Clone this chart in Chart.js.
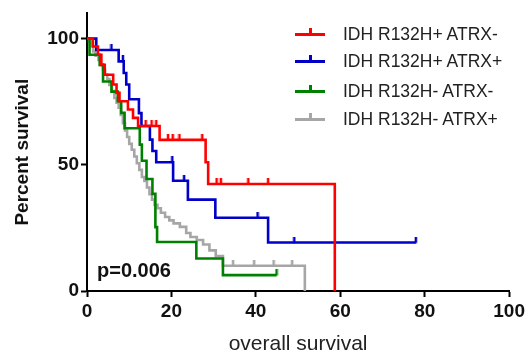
<!DOCTYPE html>
<html><head><meta charset="utf-8">
<script src="https://cdn.jsdelivr.net/npm/chart.js@4/dist/chart.umd.min.js"></script>
<style>
html,body{margin:0;padding:0;background:#fff;}
#wrap{position:relative;width:528px;height:355px;overflow:hidden;}
#c{position:absolute;left:0;top:0;}
.leg{position:absolute;left:295px;height:20px;width:230px;}
.leg .ln{position:absolute;left:0;top:9px;width:30px;height:3px;}
.leg .tk{position:absolute;left:14px;top:4px;width:2.5px;height:6px;}
.leg .tx{position:absolute;left:48px;top:0;font:17.5px "Liberation Sans",Arial,sans-serif;color:#222;line-height:20px;white-space:nowrap;}
#pval{position:absolute;left:97px;top:259px;font:bold 20px "Liberation Sans",Arial,sans-serif;color:#111;line-height:22px;}
</style></head>
<body><div id="wrap"><canvas id="c" width="528" height="355"></canvas>
<div class="leg" style="top:24px"><div class="ln" style="background:#ff0000"></div><div class="tk" style="background:#ff0000"></div><div class="tx">IDH R132H+ ATRX-</div></div>
<div class="leg" style="top:51px"><div class="ln" style="background:#0000c8"></div><div class="tk" style="background:#0000c8"></div><div class="tx">IDH R132H+ ATRX+</div></div>
<div class="leg" style="top:81px"><div class="ln" style="background:#008000"></div><div class="tk" style="background:#008000"></div><div class="tx">IDH R132H- ATRX-</div></div>
<div class="leg" style="top:109px"><div class="ln" style="background:#a6a6a6"></div><div class="tk" style="background:#a6a6a6"></div><div class="tx">IDH R132H- ATRX+</div></div>
<div id="pval">p=0.006</div>
</div>
<script>
// Kaplan-Meier step data: event times and survival (%) after each event
const groupNames = ['IDH R132H+ ATRX-', 'IDH R132H+ ATRX+', 'IDH R132H- ATRX-', 'IDH R132H- ATRX+'];

const redTimes = [0, 1.4, 2.6, 3.4, 4.2, 6.2, 7.0, 7.7, 9.7, 10.9, 12.1, 17.2, 28.1, 28.7, 58.7];
const redSurv  = [100, 96.9, 93.6, 89.6, 85.7, 81.8, 78.5, 75.2, 71.9, 68.6, 65.4, 59.9, 51.0, 42.4, 0];
const redCensor = [13.9, 15.3, 16.4, 19.2, 20.3, 21.9, 27.3, 30.7, 31.7, 38.2, 42.9];

const blueTimes = [0, 2.2, 7.5, 8.7, 9.3, 10.0, 12.3, 12.9, 14.9, 15.5, 16.4, 20.4, 23.9, 30.4, 42.9, 77.9];
const blueSurv  = [100, 95.5, 91.0, 86.4, 81.8, 76.0, 70.5, 65.4, 60.0, 55.5, 51.0, 43.7, 36.2, 29.0, 19.2, 19.2];
const blueCensor = [5.8, 8.5, 20.2, 23.0, 40.4, 49.1, 77.9];

const greenTimes = [0, 0.6, 3.0, 3.8, 5.8, 7.3, 8.1, 8.9, 12.5, 13.0, 14.1, 15.5, 16.2, 16.6, 25.9, 32.2, 44.9];
const greenSurv  = [100, 93.6, 89.6, 83.0, 79.0, 75.2, 70.6, 64.5, 58.0, 51.6, 44.4, 38.5, 25.3, 19.4, 12.9, 6.3, 6.3];
const greenCensor = [44.9];

const grayTimes = [0, 0.5, 1.0, 1.5, 2.0, 2.7, 3.2, 3.8, 4.3, 4.8, 5.3, 5.9, 6.5, 7.0, 7.5, 8.0, 8.5, 9.0, 9.5, 10.0, 10.6, 11.2, 11.8, 12.4, 13.0, 13.6, 14.2, 14.8, 15.4, 16.0, 16.7, 17.5, 18.5, 19.5, 20.5, 22.0, 23.5, 24.5, 26.0, 27.5, 29.0, 30.5, 32.2, 51.6];
const graySurv  = [100, 98.8, 97.0, 94.9, 93.2, 91.6, 89.6, 87.7, 85.8, 84.0, 81.6, 79.2, 76.5, 74.6, 72.6, 69.8, 66.5, 63.6, 61.0, 58.3, 56.0, 53.3, 50.6, 48.0, 45.2, 43.6, 41.0, 38.4, 36.2, 34.2, 32.8, 31.0, 29.3, 28.0, 26.8, 25.4, 23.0, 21.4, 20.2, 18.4, 16.1, 13.8, 10.0, 0];
const grayCensor = [34.6, 39.6, 44.2, 48.6];

const xTicks = [0, 20, 40, 60, 80, 100];
const yTicks = [0, 50, 100];

const colors = ['#ff0000', '#0000c8', '#008000', '#a6a6a6'];
const FONT = '"Liberation Sans", Arial, sans-serif';

function pts(ts, ss) { return ts.map((t, i) => ({x: t, y: ss[i]})); }
function survAt(ts, ss, t) { let v = ss[0]; for (let i = 0; i < ts.length; i++) { if (ts[i] <= t) v = ss[i]; } return v; }
function tickImg(col) {
  const c = document.createElement('canvas'); c.width = 4; c.height = 12;
  const g = c.getContext('2d'); g.fillStyle = col; g.fillRect(0.75, 0, 2.5, 6.5); return c;
}

const groups = [
  [redTimes, redSurv, redCensor],
  [blueTimes, blueSurv, blueCensor],
  [greenTimes, greenSurv, greenCensor],
  [grayTimes, graySurv, grayCensor]
];
const datasets = [];
groups.forEach((g, i) => {
  datasets.push({
    type: 'scatter', label: groupNames[i] + ' censored', showLine: false,
    data: g[2].map(t => ({x: t, y: survAt(g[0], g[1], t)})),
    pointStyle: tickImg(colors[i]), pointRadius: 5, clip: false, order: i * 2
  });
  datasets.push({
    type: 'line', label: groupNames[i], data: pts(g[0], g[1]), stepped: 'before',
    borderColor: colors[i], borderWidth: 2.6, pointRadius: 0, fill: false, clip: false, order: i * 2 + 1
  });
});

new Chart(document.getElementById('c'), {
  data: {datasets},
  options: {
    responsive: false, animation: false, devicePixelRatio: 1,
    layout: {padding: {top: 12, right: 18, left: 0, bottom: 0}},
    plugins: {legend: {display: false}, tooltip: {enabled: false}},
    scales: {
      x: {
        type: 'linear', min: 0, max: 100,
        afterBuildTicks: s => { s.ticks = xTicks.map(v => ({value: v})); },
        afterFit: s => { s.height = 64; },
        ticks: {color: '#111', font: {family: FONT, size: 19, weight: 'bold'}, padding: 3, maxRotation: 0},
        grid: {drawOnChartArea: false, drawTicks: true, tickLength: 6, tickWidth: 2, tickColor: '#000'},
        border: {color: '#000', width: 2},
        title: {display: true, text: 'overall survival', color: '#222', font: {family: FONT, size: 21, lineHeight: 1}, padding: {top: 0, bottom: 0}}
      },
      y: {
        type: 'linear', min: 0, max: 110,
        afterBuildTicks: s => { s.ticks = yTicks.map(v => ({value: v})); },
        afterFit: s => { s.width = 87; },
        ticks: {color: '#111', font: {family: FONT, size: 19, weight: 'bold'}, padding: 2},
        grid: {drawOnChartArea: false, drawTicks: true, tickLength: 6, tickWidth: 2, tickColor: '#000'},
        border: {color: '#000', width: 2},
        title: {display: true, text: 'Percent survival', color: '#111', font: {family: FONT, size: 19, weight: 'bold'}, padding: {top: 11, bottom: 0}}
      }
    }
  }
});
</script>
</body></html>
